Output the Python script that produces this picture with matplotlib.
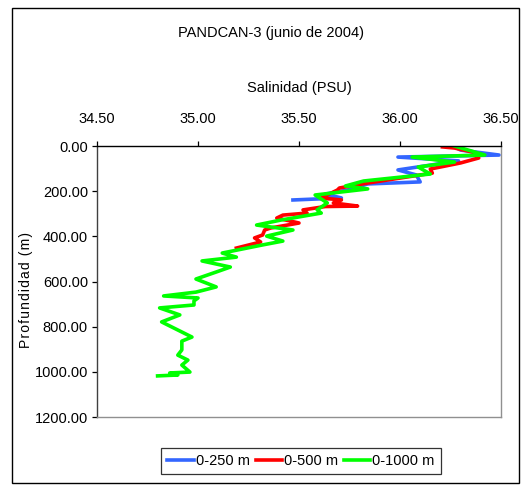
import matplotlib.pyplot as plt
from matplotlib.patches import Rectangle
from matplotlib.ticker import FormatStrFormatter, MultipleLocator

plt.rcParams['font.family'] = ['Liberation Sans Narrow', 'Liberation Sans', 'DejaVu Sans']
plt.rcParams['font.size'] = 10

# salinity profiles (PSU) vs depth (m) for the three casts
sal_250 = [36.27, 36.30, 36.49, 35.99, 36.29, 35.99, 36.08, 36.10, 35.84, 35.74, 35.63, 35.71, 35.47]
dep_250 = [4, 18, 40, 49, 66, 106, 128, 159, 168, 195, 213, 230, 239]

sal_500 = [36.21, 36.27, 36.36, 36.39, 36.30, 36.15, 36.16, 35.84, 35.70, 35.69, 35.61, 35.71,
           35.67, 35.79, 35.63, 35.52, 35.54, 35.42, 35.39, 35.50, 35.36, 35.33, 35.32, 35.28,
           35.31, 35.19]
dep_500 = [4, 9, 27, 53, 75, 102, 120, 164, 186, 195, 230, 239,
           252, 266, 268, 283, 297, 306, 319, 341, 363, 372, 394, 407,
           425, 452]

sal_1000 = [36.27, 36.42, 36.06, 36.27, 36.09, 36.15, 35.82, 35.73, 35.84, 35.58, 35.64, 35.59,
            35.61, 35.41, 35.29, 35.47, 35.34, 35.42, 35.32, 35.12, 35.19, 35.02, 35.16, 35.09,
            34.99, 35.09, 34.99, 34.83, 35.00, 34.98, 34.98, 34.81, 34.91, 34.82, 34.97, 34.92,
            34.92, 34.90, 34.95, 34.92, 34.96, 34.86, 34.90, 34.80]
dep_1000 = [0, 40, 49, 71, 93, 124, 155, 177, 190, 217, 252, 283,
            297, 328, 350, 372, 399, 421, 438, 474, 492, 509, 536, 558,
            589, 624, 647, 664, 673, 686, 704, 717, 748, 779, 846, 864,
            903, 926, 948, 970, 1001, 1005, 1014, 1018]

fig = plt.figure(figsize=(5.25, 4.87), dpi=100)
fig.patches.append(Rectangle((12/525, 1-483/487), 507/525, 475/487, transform=fig.transFigure,
                             fill=False, edgecolor='black', linewidth=1))
ax = fig.add_axes([97/525, 1-417/487, 404/525, 271/487])

ax.plot(sal_250, dep_250, color='#3366FF', linewidth=2.6, label='0-250 m')
ax.plot(sal_500, dep_500, color='#FF0000', linewidth=2.6, label='0-500 m')
ax.plot(sal_1000, dep_1000, color='#00FF00', linewidth=2.6, label='0-1000 m')

ax.set_xlim(34.5, 36.5)
ax.set_ylim(1200, 0)
ax.xaxis.set_major_locator(MultipleLocator(0.5))
ax.yaxis.set_major_locator(MultipleLocator(200))
ax.xaxis.set_major_formatter(FormatStrFormatter('%.2f'))
ax.yaxis.set_major_formatter(FormatStrFormatter('%.2f'))
ax.xaxis.tick_top()
ax.xaxis.set_label_position('top')
ax.tick_params(direction='out', length=3.5, width=0.9, labelsize=10.5)
ax.tick_params(axis='x', pad=11)
ax.tick_params(axis='y', pad=3)

ax.spines['top'].set_color('black')
ax.spines['left'].set_color('#404040')
ax.spines['right'].set_color('#909090')
ax.spines['bottom'].set_color('#909090')
for s in ax.spines.values():
    s.set_linewidth(1)

ax.set_xlabel('Salinidad (PSU)', fontsize=10.5, labelpad=14)
ax.set_ylabel('\u200a'.join('Profundidad (m)'), fontsize=10)
ax.yaxis.set_label_coords(-0.158, 0.47)
fig.text(271/525, 1-33/487, 'PANDCAN-3 (junio de 2004)', ha='center', va='center', fontsize=10.5)

leg = fig.legend(loc='center', bbox_to_anchor=(301/525, 1-461/487), ncol=3, frameon=True,
                 fancybox=False, edgecolor='black', fontsize=10.5, handlelength=1.8,
                 handletextpad=0.15, columnspacing=0.4, borderpad=0.4)
leg.get_frame().set_linewidth(0.9)

fig.savefig('out.png', dpi=100)
